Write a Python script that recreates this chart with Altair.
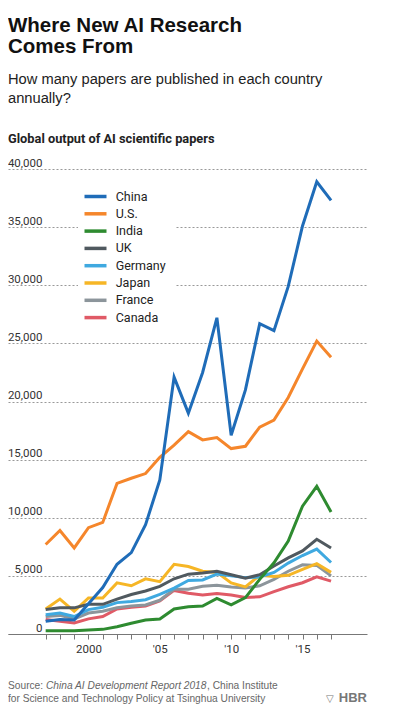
import altair as alt
import pandas as pd

years = list(range(1997, 2018))
china = [1100, 1250, 1200, 2600, 4000, 6000, 7000, 9400, 13250, 22100, 19000,
         22500, 27200, 17100, 21000, 26700, 26100, 29900, 35100, 38900, 37300]
us = [7700, 8900, 7400, 9150, 9600, 12950, 13400, 13800, 15200, 16250, 17400,
      16700, 16900, 15950, 16150, 17800, 18400, 20350, 22800, 25200, 23800]
india = [280, 280, 290, 340, 400, 630, 920, 1200, 1290, 2150, 2350,
         2400, 3060, 2500, 3130, 4700, 6130, 8000, 11000, 12700, 10500]
uk = [2100, 2250, 2250, 2550, 2550, 3000, 3400, 3700, 4100, 4750, 5150,
      5250, 5400, 5100, 4800, 5100, 5850, 6550, 7150, 8150, 7400]
germany = [1650, 1800, 1500, 2100, 2300, 2700, 2800, 2950, 3400, 3950, 4600,
           4650, 5150, 5000, 4850, 4900, 5300, 6100, 6750, 7300, 6150]
japan = [2150, 3000, 1950, 3100, 3100, 4400, 4150, 4750, 4500, 6000, 5800,
         5400, 5300, 4400, 4050, 5050, 4950, 5050, 5550, 6050, 5300]
france = [1500, 1600, 1300, 1800, 1950, 2250, 2400, 2500, 2900, 3850, 3850,
          4100, 4200, 4050, 3950, 4150, 4700, 5400, 5950, 5900, 5000]
canada = [1250, 1100, 950, 1300, 1500, 2150, 2300, 2400, 2850, 3750, 3500,
          3350, 3490, 3350, 3150, 3200, 3640, 4060, 4410, 4920, 4550]

countries = ["China", "U.S.", "India", "UK", "Germany", "Japan", "France", "Canada"]
colors = ["#1f6cb8", "#f5862b", "#2e8b30", "#50595f", "#3fa9e0", "#f6b626", "#8c959b", "#e05a66"]
series = [china, us, india, uk, germany, japan, france, canada]
y_ticks = [0, 5000, 10000, 15000, 20000, 25000, 30000, 35000, 40000]

title_lines = ["Where New AI Research", "Comes From"]
subtitle_lines = ["How many papers are published in each country", "annually?"]
chart_heading = "Global output of AI scientific papers"

rows = []
# draw order: last listed ends on top
for name, vals in reversed(list(zip(countries, series))):
    for yr, v in zip(years, vals):
        rows.append({"country": name, "year": yr, "papers": v})
df = pd.DataFrame(rows)

NARROW = "Roboto"
SANS = "Liberation Sans, Arial, sans-serif"

label_expr = ("datum.value == 2000 ? '2000' : datum.value == 2005 ? \"'05\" : "
              "datum.value == 2010 ? \"'10\" : datum.value == 2015 ? \"'15\" : ''")

lines = alt.Chart(df).mark_line(strokeWidth=3).encode(
    x=alt.X("year:Q",
            scale=alt.Scale(domain=[1994.36, 2019.52], nice=False, zero=False),
            axis=alt.Axis(values=years, labelExpr=label_expr, grid=False, title=None,
                          tickSize=5, tickColor="#777", domainColor="#777",
                          labelFont=NARROW, labelFontSize=11.5, labelColor="#333",
                          labelPadding=4, labelFlush=False, labelOverlap=False)),
    y=alt.Y("papers:Q",
            scale=alt.Scale(domain=[0, 40000], nice=False),
            axis=alt.Axis(values=y_ticks, format=",.0f", grid=True, gridDash=[2, 2],
                          gridColor="#999", gridWidth=1, domain=False, ticks=False,
                          tickSize=0, labelAlign="right", labelPadding=-34,
                          labelBaseline="alphabetic", labelOffset=-3,
                          labelFont=NARROW, labelFontSize=11.5, labelColor="#333",
                          title=None)),
    color=alt.Color("country:N",
                    scale=alt.Scale(domain=countries, range=colors),
                    legend=alt.Legend(orient="none", legendX=70, legendY=10, title=None,
                                      fillColor="white", padding=10,
                                      symbolType="M-2,0L2,0", symbolSize=121,
                                      symbolStrokeWidth=3.5,
                                      labelFont=NARROW, labelFontSize=12.5,
                                      labelColor="#222", labelOffset=12.7, rowPadding=2.3)),
)


def text_layer(text, x, y, **kw):
    return alt.Chart(pd.DataFrame({"k": [0]})).mark_text(
        text=text, align=kw.pop("align", "left"), baseline="alphabetic", **kw
    ).encode(x=alt.value(x), y=alt.value(y))


title = text_layer(title_lines, 0, -137.3, font=SANS, fontSize=20.5,
                   fontWeight="bold", color="#111", lineHeight=21)
subtitle = text_layer(subtitle_lines, 0, -85, font=SANS, fontSize=14.7,
                      color="#222", lineHeight=18.5)
heading = text_layer(chart_heading, 0, -26.3, font=NARROW, fontSize=12.8,
                     fontWeight="bold", color="#222")
src1 = text_layer("Source:", 0, 520, font=SANS, fontSize=10.2, color="#666")
src2 = text_layer("China AI Development Report 2018", 38, 520, font=SANS,
                  fontSize=10.2, fontStyle="italic", color="#666")
src3 = text_layer(", China Institute", 199, 520, font=SANS, fontSize=10.2, color="#666")
src4 = text_layer("for Science and Technology Policy at Tsinghua University", 0, 533.4,
                  font=SANS, fontSize=10.2, color="#666")
hbr = text_layer("HBR", 359, 533.4, align="right", font=SANS, fontSize=13,
                 fontWeight="bold", color="#777")
shield = text_layer("▽", 318, 533.4, font="DejaVu Sans", fontSize=10, color="#777")

chart = alt.layer(lines, title, subtitle, heading, src1, src2, src3, src4, hbr, shield).properties(
    width=359, height=465,
    autosize=alt.AutoSizeParams(type="none"),
    padding={"left": 0, "top": 161, "right": 22, "bottom": 86},
).configure_view(stroke=None)

chart.save("out.html", embed_options={"renderer": "svg", "actions": False})
